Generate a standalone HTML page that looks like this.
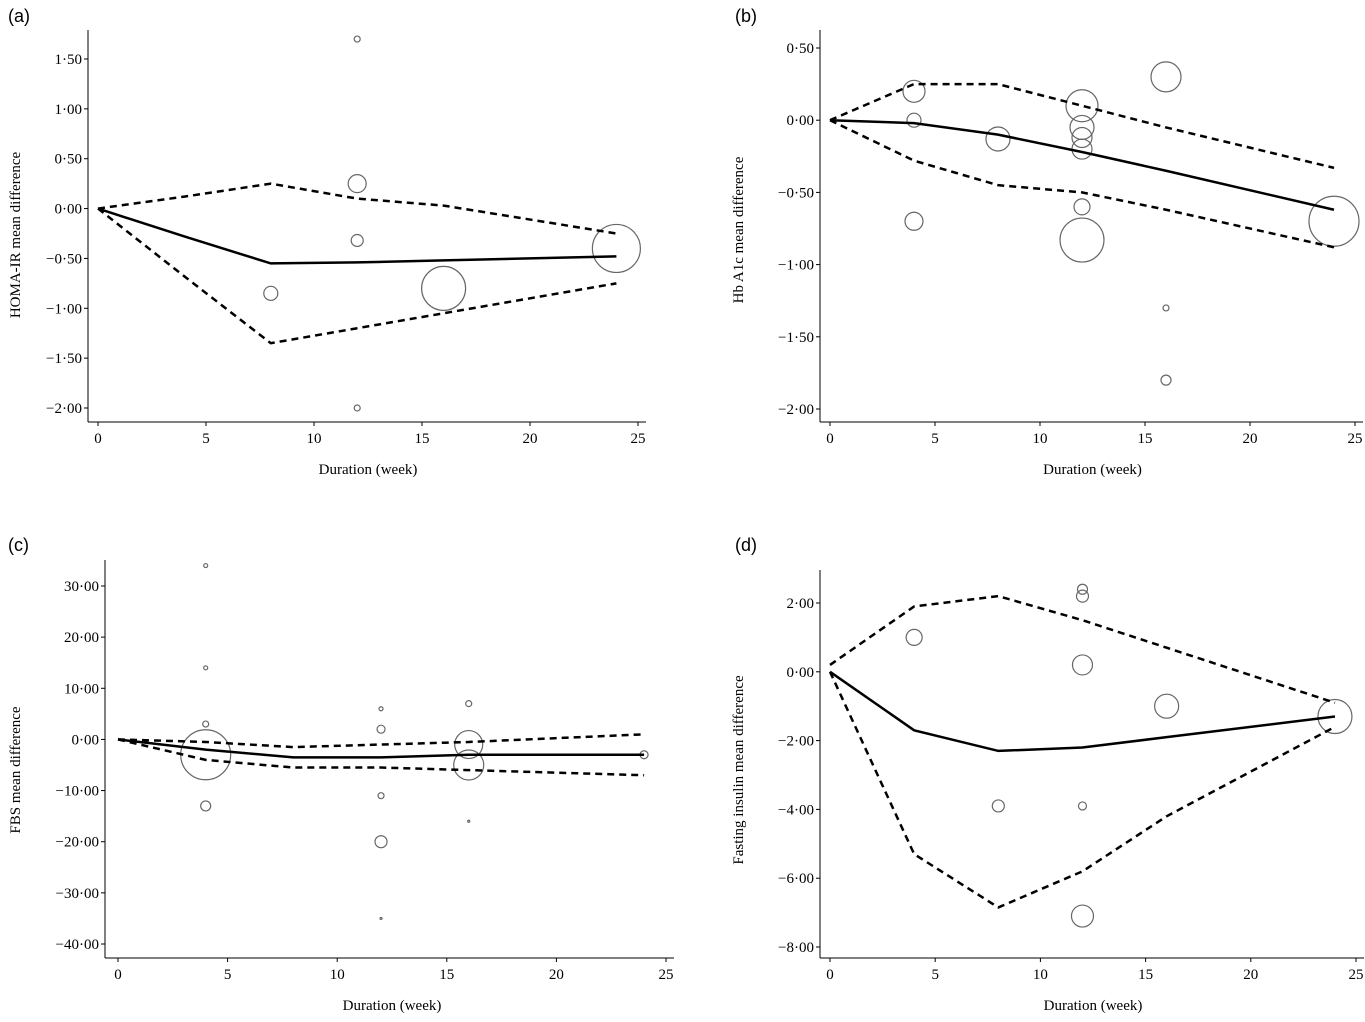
<!DOCTYPE html>
<html><head><meta charset="utf-8"><style>
body{margin:0;background:#fff}
svg{display:block}
text{font-family:"Liberation Serif",serif;font-size:15px;fill:#000}
.pl{font-family:"Liberation Sans",sans-serif;font-size:18px}
</style></head><body>
<svg id="c" width="1365" height="1022" viewBox="0 0 1365 1022"></svg>
<script>
const panelLabels=["(a)","(b)","(c)","(d)"];
const yTitles=["HOMA-IR mean difference","Hb A1c mean difference","FBS mean difference","Fasting insulin mean difference"];
const xTicks=[0,5,10,15,20,25];
const yTicksA=[1.5,1,0.5,0,-0.5,-1,-1.5,-2];
const yTicksB=[0.5,0,-0.5,-1,-1.5,-2];
const yTicksC=[30,20,10,0,-10,-20,-30,-40];
const yTicksD=[2,0,-2,-4,-6,-8];
const lineX=[0,4,8,12,16,24];
const solidA=[0,-0.28,-0.55,-0.54,-0.52,-0.48];
const upperA=[0,0.12,0.25,0.1,0.03,-0.25];
const lowerA=[0,-0.68,-1.35,-1.2,-1.05,-0.75];
const solidB=[0,-0.02,-0.1,-0.22,-0.35,-0.62];
const upperB=[0,0.25,0.25,0.1,-0.05,-0.33];
const lowerB=[0,-0.28,-0.45,-0.5,-0.62,-0.88];
const solidC=[0,-2,-3.5,-3.5,-3,-3];
const upperC=[0,-0.5,-1.5,-1,-0.5,1];
const lowerC=[0,-4,-5.5,-5.5,-6,-7];
const solidD=[0,-1.7,-2.3,-2.2,-1.9,-1.3];
const upperD=[0.2,1.9,2.2,1.5,0.7,-0.9];
const lowerD=[0,-5.3,-6.85,-5.8,-4.2,-1.6];
const ptsXA=[12,12,12,8,16,24,12];
const ptsYA=[1.7,0.25,-0.32,-0.85,-0.8,-0.4,-2.0];
const ptsRA=[3,9,6,7,22,24,3];
const ptsXB=[4,4,4,8,12,12,12,12,12,12,16,16,16,24];
const ptsYB=[0.2,0,-0.7,-0.13,0.1,-0.05,-0.12,-0.2,-0.6,-0.83,0.3,-1.3,-1.8,-0.7];
const ptsRB=[11,7,9,12,16,12,10,10,8,22,15,3,5,25];
const ptsXC=[4,4,4,4,4,12,12,12,12,12,16,16,16,16,24];
const ptsYC=[34,14,3,-3,-13,6,2,-11,-20,-35,7,-1,-5,-16,-3];
const ptsRC=[2,2,3,25,5,2,4,3,6,1,3,14,15,1,4];
const ptsXD=[4,8,12,12,12,12,12,16,24];
const ptsYD=[1.0,-3.9,2.4,2.2,0.2,-3.9,-7.1,-1.0,-1.3];
const ptsRD=[8,6,5,6,10,4,11,12,17];

const panels=[
 {x0:98,x25:638,ax:88,ay:422,yv:[1.5,-2],yp:[59,408],yt:yTicksA,top:30,lx:8,ly:22,tx:20,ty:235,s:solidA,u:upperA,l:lowerA,px:ptsXA,py:ptsYA,pr:ptsRA,dec:2},
 {x0:830,x25:1355,ax:820,ay:422,yv:[0.5,-2],yp:[48,409],yt:yTicksB,top:30,lx:735,ly:22,tx:743,ty:230,s:solidB,u:upperB,l:lowerB,px:ptsXB,py:ptsYB,pr:ptsRB,dec:2},
 {x0:118,x25:666,ax:105,ay:958,yv:[30,-40],yp:[586,944],yt:yTicksC,top:560,lx:8,ly:551,tx:20,ty:770,s:solidC,u:upperC,l:lowerC,px:ptsXC,py:ptsYC,pr:ptsRC,dec:2},
 {x0:830,x25:1356,ax:820,ay:958,yv:[2,-8],yp:[603,947],yt:yTicksD,top:570,lx:735,ly:551,tx:743,ty:770,s:solidD,u:upperD,l:lowerD,px:ptsXD,py:ptsYD,pr:ptsRD,dec:2}
];
const svg=document.getElementById('c');
const NS='http://www.w3.org/2000/svg';
function mk(t,a,p){const e=document.createElementNS(NS,t);for(const k in a)e.setAttribute(k,a[k]);(p||svg).appendChild(e);return e;}
function fmt(v){const s=Math.abs(v).toFixed(2).replace('.','·');return (v<0?'−':'')+s;}
panels.forEach((P,i)=>{
 const g=mk('g',{});
 
 
 const X=v=>P.x0+(P.x25-P.x0)*v/25;
 const Y=v=>P.yp[0]+(P.yp[1]-P.yp[0])*(v-P.yv[0])/(P.yv[1]-P.yv[0]);
 const lab=mk('text',{x:P.lx,y:P.ly,class:'pl'},g);lab.textContent=panelLabels[i];
 
 
 const ya=mk('line',{x1:P.ax,y1:P.top,x2:P.ax,y2:P.ay,stroke:'#000','stroke-width':1},g);
 
 
 const xa=mk('line',{x1:P.ax,y1:P.ay,x2:P.x25+8,y2:P.ay,stroke:'#000','stroke-width':1},g);
 
 
 P.yt.forEach(v=>{const y=Y(v);mk('line',{x1:P.ax-4,y1:y,x2:P.ax,y2:y,stroke:'#000'},g);
  const t=mk('text',{x:P.ax-6,y:y+5,'text-anchor':'end'},g);t.textContent=fmt(v);
  
  });
 xTicks.forEach(v=>{const x=X(v);mk('line',{x1:x,y1:P.ay,x2:x,y2:P.ay+4,stroke:'#000'},g);
  const t=mk('text',{x:x,y:P.ay+21,'text-anchor':'middle'},g);t.textContent=v;
  
  });
 const xt=mk('text',{x:(P.x0+P.x25)/2,y:P.ay+52,'text-anchor':'middle'},g);xt.textContent='Duration (week)';
 
 
 const yt=mk('text',{x:0,y:0,'text-anchor':'middle',transform:`translate(${P.tx},${P.ty}) rotate(-90)`},g);yt.textContent=yTitles[i];
 
 
 P.px.forEach((xv,j)=>{const c=mk('circle',{cx:X(xv),cy:Y(P.py[j]),r:P.pr[j],fill:'none',stroke:'#666','stroke-width':1.2},g);
  
  });
 [[P.s,'none','solid-fit-line'],[P.u,'7,5','upper-ci-line'],[P.l,'7,5','lower-ci-line']].forEach(([arr,da,nm])=>{
  const pts=arr.map((v,k)=>X(lineX[k])+','+Y(v)).join(' ');
  const pl=mk('polyline',{points:pts,fill:'none',stroke:'#000','stroke-width':2.5,'stroke-dasharray':da},g);
  
  });
});
</script>
</body></html>
